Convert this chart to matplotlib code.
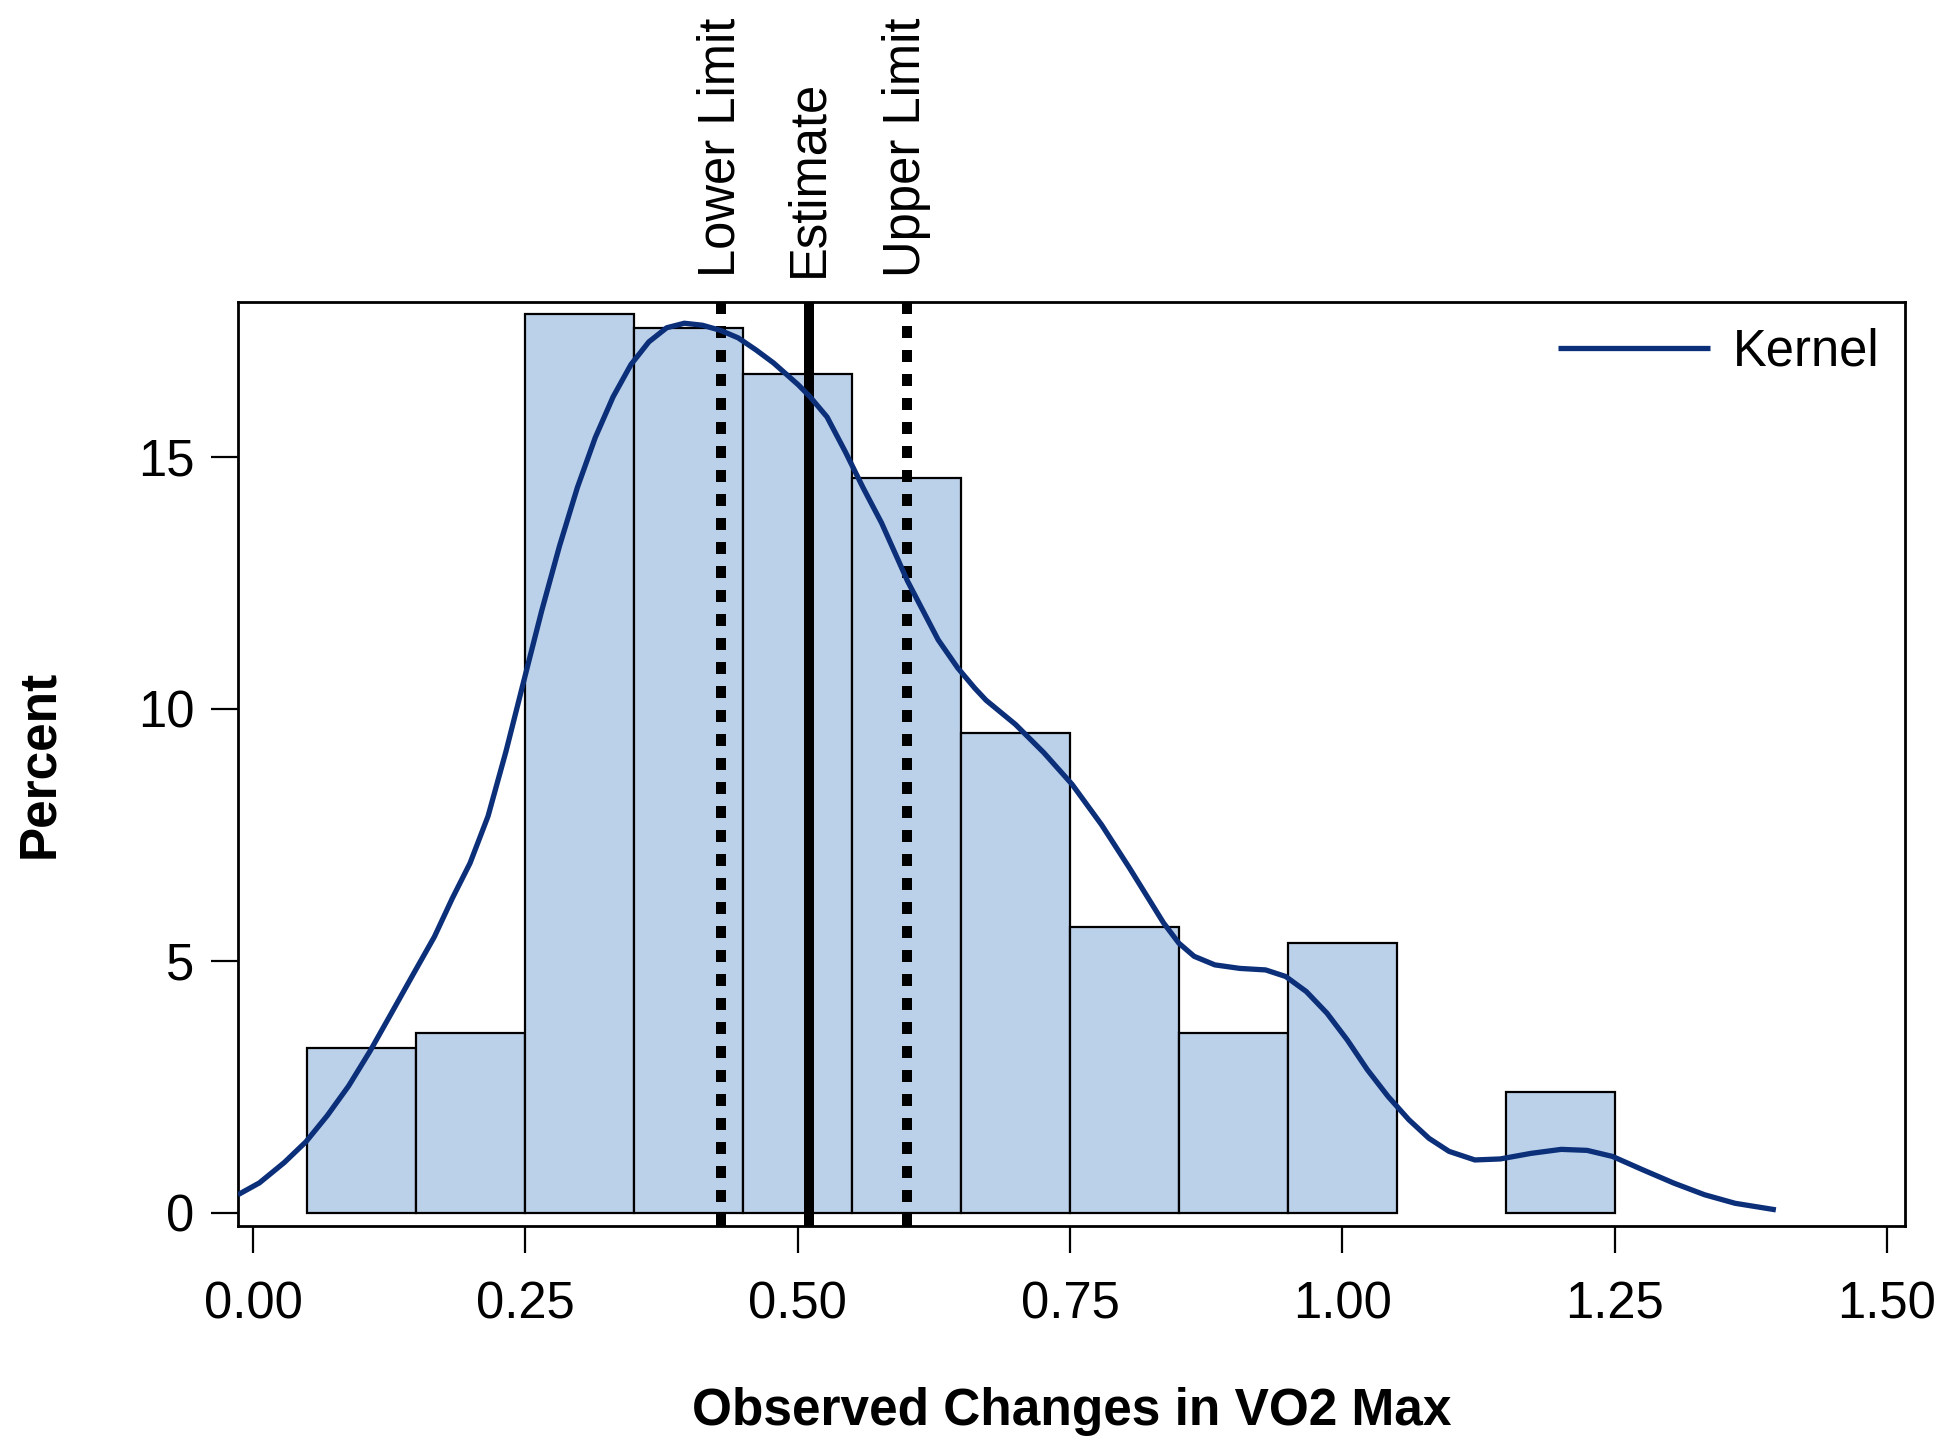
import matplotlib
matplotlib.use("Agg")
import matplotlib.pyplot as plt
import matplotlib.transforms as mtransforms

plt.rcParams['font.family'] = ['Liberation Sans', 'DejaVu Sans']

# ---- data ----
bin_centers = [0.1, 0.2, 0.3, 0.4, 0.5, 0.6, 0.7, 0.8, 0.9, 1.0, 1.1, 1.2]
bin_percent = [3.27, 3.57, 17.83, 17.56, 16.65, 14.57, 9.53, 5.67, 3.57, 5.36, 0.0, 2.40]
bin_width = 0.1

kernel_x = [-0.0138, 0.0059, 0.0288, 0.0486, 0.0682, 0.0879, 0.1075, 0.1273, 0.147, 0.1666,
            0.183, 0.1993, 0.2158, 0.2322, 0.2486, 0.265, 0.2814, 0.2978, 0.3142, 0.3306,
            0.347, 0.3634, 0.3798, 0.396, 0.4126, 0.429, 0.4454, 0.4618, 0.478, 0.5005,
            0.511, 0.527, 0.544, 0.560, 0.577, 0.601, 0.629, 0.647, 0.6626, 0.673,
            0.700, 0.726, 0.752, 0.779, 0.805, 0.836, 0.850, 0.864, 0.883, 0.906,
            0.9296, 0.948, 0.967, 0.986, 1.0046, 1.023, 1.042, 1.061, 1.0795, 1.098,
            1.1217, 1.145, 1.173, 1.201, 1.2247, 1.248, 1.2763, 1.3044, 1.3325, 1.3606,
            1.398]
kernel_y = [0.36, 0.595, 1.00, 1.41, 1.93, 2.52, 3.21, 3.97, 4.73, 5.48,
            6.24, 6.94, 7.87, 9.15, 10.55, 11.94, 13.23, 14.39, 15.38, 16.19,
            16.83, 17.28, 17.56, 17.65, 17.61, 17.51, 17.36, 17.12, 16.86, 16.43,
            16.20, 15.79, 15.09, 14.39, 13.69, 12.53, 11.37, 10.81, 10.41, 10.17,
            9.69, 9.13, 8.50, 7.70, 6.83, 5.75, 5.35, 5.09, 4.92, 4.85,
            4.82, 4.69, 4.39, 3.96, 3.43, 2.84, 2.31, 1.85, 1.48, 1.22,
            1.05, 1.07, 1.18, 1.26, 1.24, 1.12, 0.85, 0.59, 0.36, 0.19,
            0.06]

ref_labels = ["Lower Limit", "Estimate", "Upper Limit"]
ref_values = [0.43, 0.51, 0.60]
ref_styles = ["dotted", "solid", "dotted"]

x_ticks = [0.00, 0.25, 0.50, 0.75, 1.00, 1.25, 1.50]
x_ticklabels = ["0.00", "0.25", "0.50", "0.75", "1.00", "1.25", "1.50"]
y_ticks = [0, 5, 10, 15]

bar_color = "#BBD0E9"
line_color = "#0C2F7A"

fig = plt.figure(figsize=(19.55, 14.55), dpi=100)
ax = fig.add_axes([0.1217, 0.1574, 0.8527, 0.635])

cx = [c for c, h in zip(bin_centers, bin_percent) if h > 0]
ch = [h for h in bin_percent if h > 0]
ax.bar(cx, ch, width=bin_width, color=bar_color, edgecolor="black", linewidth=1.6, zorder=2)

ax.plot(kernel_x, kernel_y, color=line_color, linewidth=3.8, zorder=4, label="Kernel",
        solid_capstyle="butt", solid_joinstyle="round")

trans = mtransforms.blended_transform_factory(ax.transData, ax.transAxes)
for lab, v, st in zip(ref_labels, ref_values, ref_styles):
    if st == "dotted":
        ax.axvline(v, color="black", linewidth=7.2, linestyle=(0, (1.2, 1.2)), zorder=3)
    else:
        ax.axvline(v, color="black", linewidth=7.2, zorder=3)
    ax.text(v, 1.027, lab, transform=trans, rotation=90, ha="center", va="bottom",
            fontsize=36.5)

ax.set_xlim(-0.0138, 1.5165)
ax.set_ylim(-0.26, 18.07)
ax.set_xticks(x_ticks)
ax.set_xticklabels(x_ticklabels)
ax.set_yticks(y_ticks)
ax.tick_params(axis="both", direction="out", length=19.5, width=1.6, labelsize=36.5)
ax.tick_params(axis="x", pad=20)
ax.tick_params(axis="y", pad=12)
for s in ax.spines.values():
    s.set_linewidth(2.0)

ax.set_xlabel("Observed Changes in VO2 Max", fontsize=37, fontweight="bold", labelpad=41)
ax.set_ylabel("Percent", fontsize=37, fontweight="bold", labelpad=53)

leg = ax.legend(loc="upper right", frameon=False, fontsize=36.5, handlelength=3.0,
                handletextpad=0.45, borderaxespad=0.2, borderpad=0.3)

fig.savefig("out.png", dpi=100)
